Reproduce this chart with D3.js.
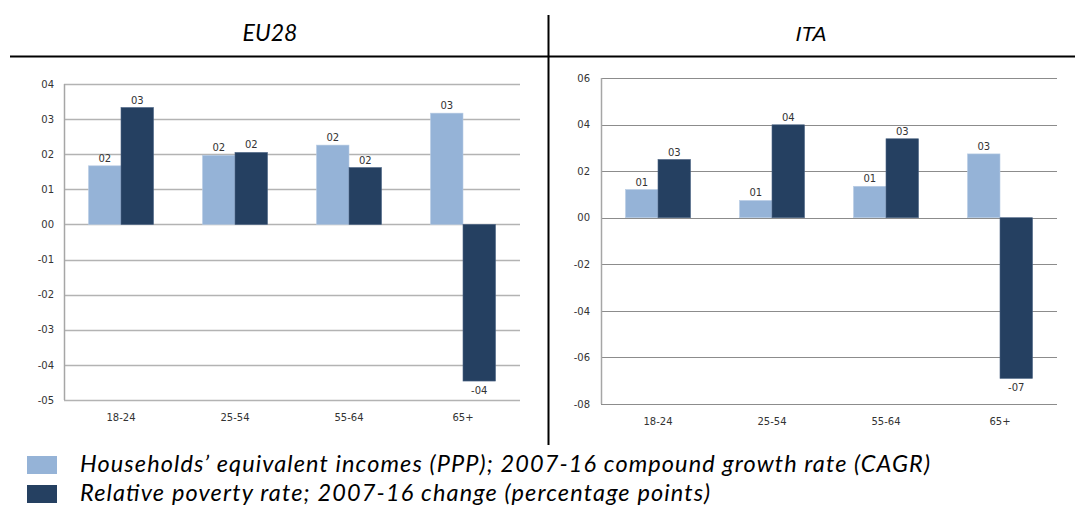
<!DOCTYPE html>
<html><head><meta charset="utf-8">
<script src="https://cdn.jsdelivr.net/npm/d3@7"></script>
<style>
html,body{margin:0;padding:0;background:#fff;}
svg{display:block;}
</style></head>
<body>
<svg id="chart" width="1075" height="507"></svg>
<script>
const categories = ["18-24", "25-54", "55-64", "65+"];
const seriesNames = ["Households\u2019 equivalent incomes (PPP); 2007-16 compound growth rate (CAGR)",
                     "Relative poverty rate; 2007-16 change (percentage points)"];
const eu28Income  = [0.167, 0.197, 0.226, 0.317];
const eu28Poverty = [0.333, 0.205, 0.162, -0.446];
const itaIncome   = [0.121, 0.074, 0.135, 0.274];
const itaPoverty  = [0.25, 0.399, 0.339, -0.69];
const eu28Ticks = [0.4, 0.3, 0.2, 0.1, 0, -0.1, -0.2, -0.3, -0.4, -0.5];
const itaTicks  = [0.6, 0.4, 0.2, 0, -0.2, -0.4, -0.6, -0.8];
const panelTitles = ["EU28", "ITA"];
const colors = ["#95B3D7", "#254061"];

const svg = d3.select("#chart");
const fmt = v => d3.format(".1f")(v).replace(".", "").replace("\u2212", "-");

// header lines
svg.append("line").attr("x1", 10).attr("x2", 1075).attr("y1", 56.5).attr("y2", 56.5)
  .attr("stroke", "#000").attr("stroke-width", 2);
svg.append("line").attr("x1", 548.5).attr("x2", 548.5).attr("y1", 15).attr("y2", 445)
  .attr("stroke", "#000").attr("stroke-width", 2);

svg.append("text").attr("x", 270).attr("y", 41).attr("text-anchor", "middle")
  .attr("font-family", "Lato, 'Open Sans', sans-serif").attr("font-style", "italic")
  .attr("font-size", 23).attr("fill", "#000").text(panelTitles[0]);
svg.append("text").attr("x", 811).attr("y", 41).attr("text-anchor", "middle")
  .attr("font-family", "'Liberation Sans', Arial, sans-serif").attr("font-style", "italic")
  .attr("font-size", 21).attr("fill", "#000").text(panelTitles[1]);

function panel(cfg) {
  const g = svg.append("g");
  const y = d3.scaleLinear().domain(cfg.domain).range([cfg.yBottom, cfg.yTop]);
  const x0 = d3.scaleBand().domain(categories).range([cfg.xLeft, cfg.xRight])
    .paddingInner(0.43).paddingOuter(0.215);
  const x1 = d3.scaleBand().domain([0, 1]).range([0, x0.bandwidth()]);

  // gridlines
  g.selectAll("line.grid").data(cfg.ticks).join("line")
    .attr("x1", cfg.xLeft).attr("x2", cfg.xRight)
    .attr("y1", d => Math.round(y(d)) + 0.5).attr("y2", d => Math.round(y(d)) + 0.5)
    .attr("stroke", cfg.gridColor).attr("stroke-width", cfg.gridWidth);

  // y axis
  const yAxis = d3.axisLeft(y).tickValues(cfg.ticks).tickSize(0).tickPadding(0).tickFormat(fmt);
  const ya = g.append("g").attr("transform", `translate(${cfg.labelRight},0)`).call(yAxis);
  ya.select(".domain").remove();
  ya.selectAll("text").attr("font-family", "'DejaVu Sans', Verdana, sans-serif")
    .attr("font-size", 10).attr("fill", "#333");
  g.append("line").attr("x1", cfg.xLeft + 0.5).attr("x2", cfg.xLeft + 0.5)
    .attr("y1", y(cfg.domain[1])).attr("y2", y(cfg.domain[0]))
    .attr("stroke", "#a6a6a6").attr("stroke-width", 1.5);

  // bars
  const rows = [];
  categories.forEach((c, i) => {
    [cfg.s0[i], cfg.s1[i]].forEach((v, k) => rows.push({c, k, v}));
  });
  g.selectAll("rect.bar").data(rows).join("rect")
    .attr("x", d => x0(d.c) + x1(d.k))
    .attr("width", x1.bandwidth())
    .attr("y", d => y(Math.max(0, d.v)))
    .attr("height", d => Math.abs(y(d.v) - y(0)))
    .attr("fill", d => colors[d.k])
    .attr("stroke", d => d.k === 0 ? "#b8cce4" : "#4a6283").attr("stroke-width", 0.6);

  // data labels
  g.selectAll("text.dl").data(rows).join("text")
    .attr("x", d => x0(d.c) + x1(d.k) + x1.bandwidth() / 2)
    .attr("y", d => d.v >= 0 ? y(d.v) - 4 : y(d.v) + 13)
    .attr("text-anchor", "middle")
    .attr("font-family", "'DejaVu Sans', Verdana, sans-serif")
    .attr("font-size", 10).attr("fill", "#333")
    .text(d => fmt(d.v));

  // x axis labels
  const xAxis = d3.axisBottom(x0).tickSize(0).tickPadding(0);
  const xa = g.append("g").attr("transform", `translate(0,${cfg.catY})`).call(xAxis);
  xa.select(".domain").remove();
  xa.selectAll("text").attr("dy", 0).attr("font-family", "'DejaVu Sans', Verdana, sans-serif")
    .attr("font-size", 10).attr("fill", "#333");
}

panel({domain: [-0.5, 0.4], ticks: eu28Ticks, yTop: 84, yBottom: 400,
       xLeft: 64, xRight: 520, labelRight: 54, catY: 421,
       s0: eu28Income, s1: eu28Poverty, gridColor: "#b3b3b3", gridWidth: 1.5});
panel({domain: [-0.8, 0.6], ticks: itaTicks, yTop: 78, yBottom: 404,
       xLeft: 601, xRight: 1057, labelRight: 590, catY: 425,
       s0: itaIncome, s1: itaPoverty, gridColor: "#8c8c8c", gridWidth: 1.2});

// legend
const legendWidths = [850, 630];
const lg = svg.append("g");
seriesNames.forEach((name, i) => {
  lg.append("rect").attr("x", 27).attr("y", 456 + i * 29).attr("width", 30).attr("height", 18)
    .attr("fill", colors[i]);
  lg.append("text").attr("x", 80).attr("y", 472 + i * 29)
    .attr("font-family", "Lato, 'Open Sans', sans-serif").attr("font-style", "italic")
    .attr("font-size", 23.5).attr("fill", "#000")
    .attr("textLength", legendWidths[i]).attr("lengthAdjust", "spacing")
    .text(name);
});
</script>
</body></html>
